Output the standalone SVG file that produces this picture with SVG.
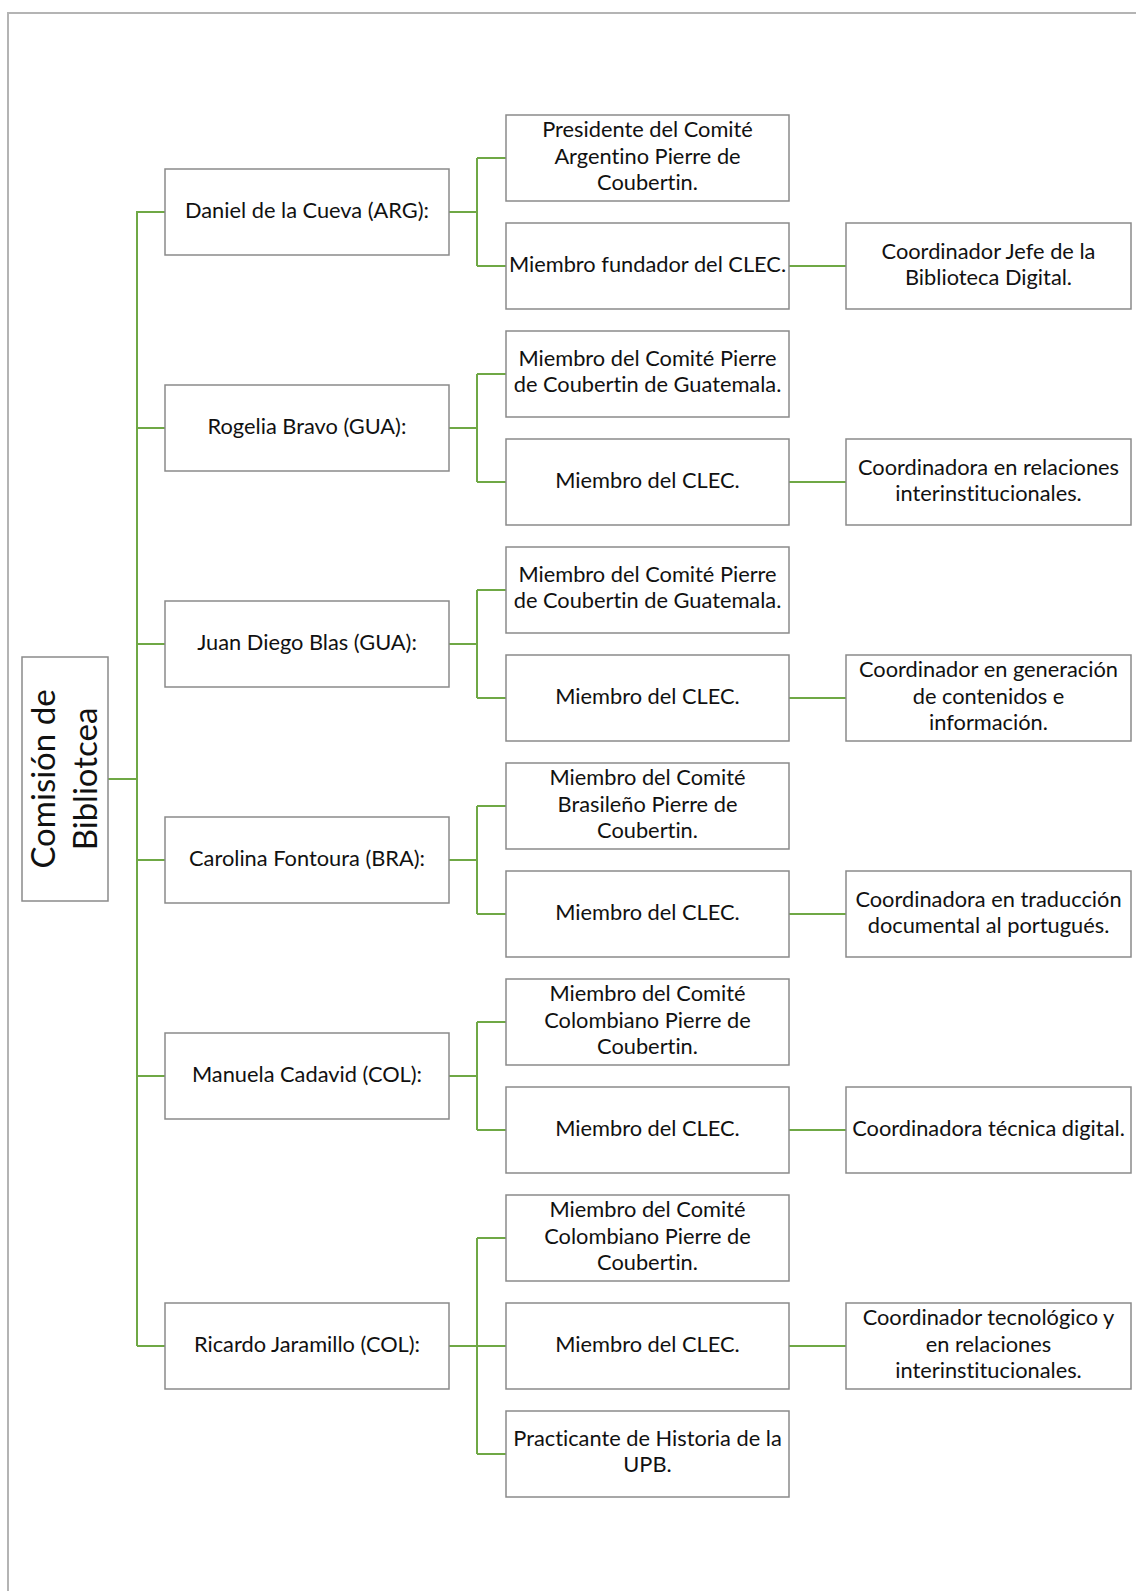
<svg xmlns="http://www.w3.org/2000/svg" width="1136" height="1591" viewBox="0 0 1136 1591">
<style>
.box{fill:#fff;stroke:#8a8a8a;stroke-width:1.5}
.t{font-family:Lato,"Open Sans","Liberation Sans",sans-serif;font-size:21.8px;fill:#111;text-anchor:middle;font-variant-ligatures:none}
.r{font-family:Lato,"Open Sans","Liberation Sans",sans-serif;font-size:33px;fill:#111;text-anchor:middle;font-variant-ligatures:none}
.c{fill:none;stroke:#6fa845;stroke-width:2}
</style>
<rect width="1136" height="1591" fill="#fff"/>
<path d="M8,1591 V13 H1136" fill="none" stroke="#b4b4b4" stroke-width="2"/>
<g id="connectors">
<path class="c" d="M108,779 H137 M137,211 V1346"/>
<path class="c" d="M137,212 H165 M449,212 H477 M477,158 V266 M477,158 H506 M477,266 H506 M789,266 H846"/>
<path class="c" d="M137,428 H165 M449,428 H477 M477,374 V482 M477,374 H506 M477,482 H506 M789,482 H846"/>
<path class="c" d="M137,644 H165 M449,644 H477 M477,590 V698 M477,590 H506 M477,698 H506 M789,698 H846"/>
<path class="c" d="M137,860 H165 M449,860 H477 M477,806 V914 M477,806 H506 M477,914 H506 M789,914 H846"/>
<path class="c" d="M137,1076 H165 M449,1076 H477 M477,1022 V1130 M477,1022 H506 M477,1130 H506 M789,1130 H846"/>
<path class="c" d="M137,1346 H165 M449,1346 H477 M477,1238 V1454 M477,1238 H506 M477,1346 H506 M477,1454 H506 M789,1346 H846"/>
</g>
<g id="root">
<rect class="box" x="22" y="657" width="86" height="244"/>
<text class="r" transform="translate(65,779) rotate(-90)"><tspan x="0" y="-10">Comisión de</tspan><tspan x="0" y="32">Bibliotcea</tspan></text>
</g>
<g id="n-daniel"><rect class="box" x="165" y="169" width="284" height="86"/><text class="t" x="307" y="218">Daniel de la Cueva (ARG):</text></g>
<g id="n-rogelia"><rect class="box" x="165" y="385" width="284" height="86"/><text class="t" x="307" y="434">Rogelia Bravo (GUA):</text></g>
<g id="n-juan"><rect class="box" x="165" y="601" width="284" height="86"/><text class="t" x="307" y="650">Juan Diego Blas (GUA):</text></g>
<g id="n-carolina"><rect class="box" x="165" y="817" width="284" height="86"/><text class="t" x="307" y="866">Carolina Fontoura (BRA):</text></g>
<g id="n-manuela"><rect class="box" x="165" y="1033" width="284" height="86"/><text class="t" x="307" y="1082">Manuela Cadavid  (COL):</text></g>
<g id="n-ricardo"><rect class="box" x="165" y="1303" width="284" height="86"/><text class="t" x="307" y="1352">Ricardo Jaramillo (COL):</text></g>

<g id="n-daniel-1"><rect class="box" x="506" y="115" width="283" height="86"/><text class="t"><tspan x="647.5" y="137">Presidente del Comité</tspan><tspan x="647.5" y="163.5">Argentino Pierre de</tspan><tspan x="647.5" y="190">Coubertin.</tspan></text></g>
<g id="n-daniel-2"><rect class="box" x="506" y="223" width="283" height="86"/><text class="t" x="647.5" y="272">Miembro fundador del CLEC.</text></g>
<g id="n-daniel-3"><rect class="box" x="846" y="223" width="285" height="86"/><text class="t"><tspan x="988.5" y="259">Coordinador Jefe de la</tspan><tspan x="988.5" y="285">Biblioteca Digital.</tspan></text></g>

<g id="n-rogelia-1"><rect class="box" x="506" y="331" width="283" height="86"/><text class="t"><tspan x="647.5" y="366">Miembro del Comité Pierre</tspan><tspan x="647.5" y="392">de Coubertin de Guatemala.</tspan></text></g>
<g id="n-rogelia-2"><rect class="box" x="506" y="439" width="283" height="86"/><text class="t" x="647.5" y="488">Miembro del CLEC.</text></g>
<g id="n-rogelia-3"><rect class="box" x="846" y="439" width="285" height="86"/><text class="t"><tspan x="988.5" y="475">Coordinadora en relaciones</tspan><tspan x="988.5" y="501">interinstitucionales.</tspan></text></g>

<g id="n-juan-1"><rect class="box" x="506" y="547" width="283" height="86"/><text class="t"><tspan x="647.5" y="582">Miembro del Comité Pierre</tspan><tspan x="647.5" y="608">de Coubertin de Guatemala.</tspan></text></g>
<g id="n-juan-2"><rect class="box" x="506" y="655" width="283" height="86"/><text class="t" x="647.5" y="704">Miembro del CLEC.</text></g>
<g id="n-juan-3"><rect class="box" x="846" y="655" width="285" height="86"/><text class="t"><tspan x="988.5" y="677">Coordinador en generación</tspan><tspan x="988.5" y="703.5">de contenidos e</tspan><tspan x="988.5" y="730">información.</tspan></text></g>

<g id="n-carolina-1"><rect class="box" x="506" y="763" width="283" height="86"/><text class="t"><tspan x="647.5" y="785">Miembro del Comité</tspan><tspan x="647.5" y="811.5">Brasileño Pierre de</tspan><tspan x="647.5" y="838">Coubertin.</tspan></text></g>
<g id="n-carolina-2"><rect class="box" x="506" y="871" width="283" height="86"/><text class="t" x="647.5" y="920">Miembro del CLEC.</text></g>
<g id="n-carolina-3"><rect class="box" x="846" y="871" width="285" height="86"/><text class="t"><tspan x="988.5" y="907">Coordinadora en traducción</tspan><tspan x="988.5" y="933">documental al portugués.</tspan></text></g>

<g id="n-manuela-1"><rect class="box" x="506" y="979" width="283" height="86"/><text class="t"><tspan x="647.5" y="1001">Miembro del Comité</tspan><tspan x="647.5" y="1027.5">Colombiano Pierre de</tspan><tspan x="647.5" y="1054">Coubertin.</tspan></text></g>
<g id="n-manuela-2"><rect class="box" x="506" y="1087" width="283" height="86"/><text class="t" x="647.5" y="1136">Miembro del CLEC.</text></g>
<g id="n-manuela-3"><rect class="box" x="846" y="1087" width="285" height="86"/><text class="t" x="988.5" y="1136">Coordinadora técnica digital.</text></g>

<g id="n-ricardo-1"><rect class="box" x="506" y="1195" width="283" height="86"/><text class="t"><tspan x="647.5" y="1217">Miembro del Comité</tspan><tspan x="647.5" y="1243.5">Colombiano Pierre de</tspan><tspan x="647.5" y="1270">Coubertin.</tspan></text></g>
<g id="n-ricardo-2"><rect class="box" x="506" y="1303" width="283" height="86"/><text class="t" x="647.5" y="1352">Miembro del CLEC.</text></g>
<g id="n-ricardo-3"><rect class="box" x="846" y="1303" width="285" height="86"/><text class="t"><tspan x="988.5" y="1325">Coordinador tecnológico y</tspan><tspan x="988.5" y="1351.5">en relaciones</tspan><tspan x="988.5" y="1378">interinstitucionales.</tspan></text></g>
<g id="n-ricardo-4"><rect class="box" x="506" y="1411" width="283" height="86"/><text class="t"><tspan x="647.5" y="1446">Practicante de Historia de la</tspan><tspan x="647.5" y="1472">UPB.</tspan></text></g>
</svg>
